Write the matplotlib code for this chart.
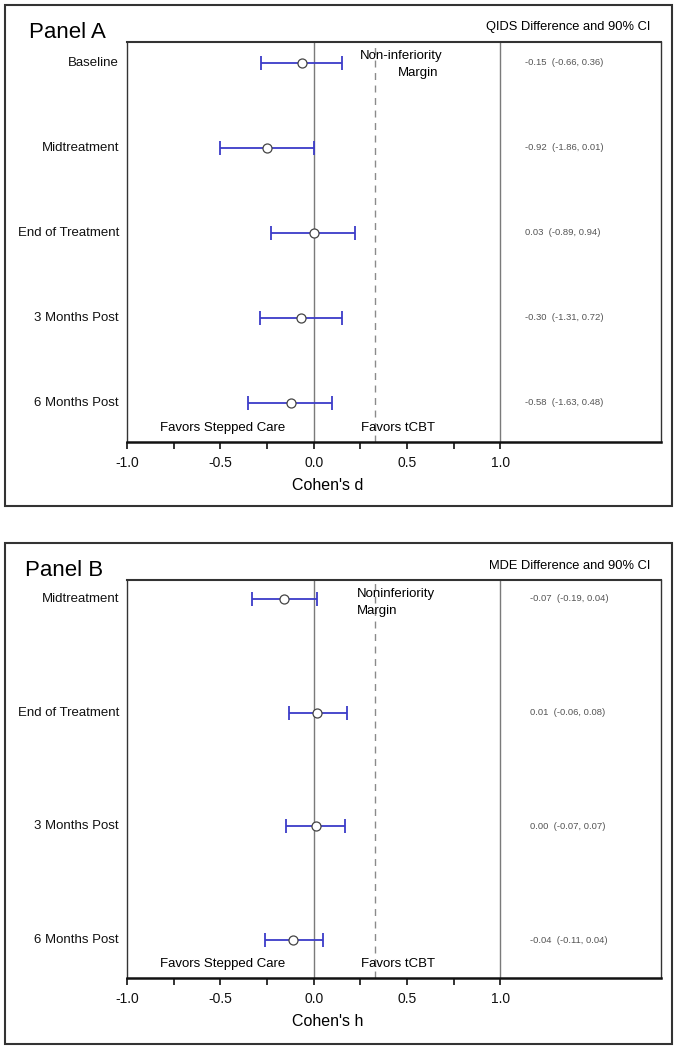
import matplotlib
matplotlib.use("Agg")
import matplotlib.pyplot as plt
import matplotlib.transforms as mtransforms
from matplotlib.patches import Rectangle

plt.rcParams['font.family'] = ['Liberation Sans', 'DejaVu Sans']
NARROW = ['Liberation Sans', 'DejaVu Sans']

# Panel A data (Cohen's d)
labels_a = ['Baseline', 'Midtreatment', 'End of Treatment', '3 Months Post', '6 Months Post']
est_a = [-0.065, -0.25, 0.0, -0.07, -0.12]
lo_a = [-0.28, -0.50, -0.23, -0.29, -0.35]
hi_a = [0.15, 0.0, 0.22, 0.15, 0.10]
txt_a = ['-0.15  (-0.66, 0.36)', '-0.92  (-1.86, 0.01)', '0.03  (-0.89, 0.94)',
         '-0.30  (-1.31, 0.72)', '-0.58  (-1.63, 0.48)']

# Panel B data (Cohen's h)
labels_b = ['Midtreatment', 'End of Treatment', '3 Months Post', '6 Months Post']
est_b = [-0.16, 0.02, 0.01, -0.11]
lo_b = [-0.33, -0.13, -0.15, -0.26]
hi_b = [0.02, 0.18, 0.17, 0.05]
txt_b = ['-0.07  (-0.19, 0.04)', '0.01  (-0.06, 0.08)', '0.00  (-0.07, 0.07)',
         '-0.04  (-0.11, 0.04)']

margin = 0.33
ticks = [-1.0, -0.5, 0.0, 0.5, 1.0]
minor_ticks = [-0.75, -0.25, 0.25, 0.75]

W, H = 677, 1050
fig = plt.figure(figsize=(W / 100, H / 100), dpi=100)


def px_box(left, top, right, bottom):
    return [left / W, 1 - bottom / H, (right - left) / W, (bottom - top) / H]


def draw_panel(rect, labels, est, lo, hi, txt, ylim, xlabel, note_lines, note_ha, note_x, txt_x):
    ax = fig.add_axes(rect)
    ys = list(range(1, len(labels) + 1))
    ax.set_xlim(-1.0, 1.86)
    ax.set_ylim(*ylim)

    ax.axvline(0, color='#7a7a7a', lw=1.0, zorder=1)
    ax.axvline(1.0, color='#7a7a7a', lw=1.0, zorder=1)
    ax.axvline(margin, color='#8a8a8a', lw=1.0, ls=(0, (5, 4)), zorder=1)

    xerr = [[e - l for e, l in zip(est, lo)], [h - e for e, h in zip(est, hi)]]
    ax.errorbar(est, ys, xerr=xerr, fmt='none', ecolor='#3c3cc8', elinewidth=1.3,
                capsize=5, capthick=1.3, zorder=2)
    ax.plot(est, ys, 'o', ms=6.5, mfc='white', mec='#444444', mew=0.9, zorder=3)

    for y, t in zip(ys, txt):
        ax.text(txt_x, y, t, fontsize=6.8, color='#555555', va='center', ha='left',
                family=NARROW)

    trans = mtransforms.blended_transform_factory(ax.transAxes, ax.transData)
    for y, lab in zip(ys, labels):
        ax.text(-0.015, y, lab, transform=trans, ha='right', va='center',
                fontsize=9.5, family=NARROW, color='#111111')

    ftrans = mtransforms.blended_transform_factory(ax.transData, ax.transAxes)
    ax.text(-0.49, 0.035, 'Favors Stepped Care', transform=ftrans, ha='center',
            va='center', fontsize=9.5, family=NARROW)
    ax.text(0.45, 0.035, 'Favors tCBT', transform=ftrans, ha='center',
            va='center', fontsize=9.5, family=NARROW)

    for (t, yy, xx) in zip(note_lines, [0.965, 0.923], note_x):
        ax.text(xx, yy, t, transform=ftrans, ha=note_ha, va='center',
                fontsize=9.5, family=NARROW)

    ax.set_yticks([])
    ax.set_xticks(ticks)
    ax.set_xticklabels(['%.1f' % t for t in ticks], fontsize=10)
    ax.set_xticks(minor_ticks, minor=True)
    ax.tick_params(axis='x', which='both', direction='out', length=5, width=1.2,
                   pad=5, colors='#111111')
    for s in ['left', 'top', 'right']:
        ax.spines[s].set_color('#333333')
        ax.spines[s].set_linewidth(1.0)
    ax.spines['bottom'].set_linewidth(1.8)
    ax.spines['bottom'].set_color('#111111')
    ax.spines['top'].set_linewidth(1.5)

    ax.text(0.075, -0.11, xlabel, transform=ftrans, ha='center', va='center',
            fontsize=11.5)
    return ax


axA = draw_panel(px_box(127, 42, 661, 442), labels_a, est_a, lo_a, hi_a, txt_a,
                 (5.46, 0.753), "Cohen's d", ['Non-inferiority', 'Margin'], 'right',
                 [0.69, 0.665], 1.13)
axB = draw_panel(px_box(127, 580, 661, 978), labels_b, est_b, lo_b, hi_b, txt_b,
                 (4.334, 0.833), "Cohen's h", ['Noninferiority', 'Margin'], 'left',
                 [0.23, 0.23], 1.16)

# outer borders and panel titles
for top, bottom in [(5, 506), (543, 1044)]:
    fig.patches.append(Rectangle((5 / W, 1 - bottom / H), 667 / W, (bottom - top) / H,
                                 transform=fig.transFigure, fill=False,
                                 ec='#333333', lw=1.5))

fig.text(29 / W, 1 - 32 / H, 'Panel A', fontsize=16, va='center', ha='left')
fig.text(650 / W, 1 - 27 / H, 'QIDS Difference and 90% CI', fontsize=9.3,
         va='center', ha='right', family=NARROW)
fig.text(25 / W, 1 - 570 / H, 'Panel B', fontsize=16, va='center', ha='left')
fig.text(650 / W, 1 - 566 / H, 'MDE Difference and 90% CI', fontsize=9.3,
         va='center', ha='right', family=NARROW)

fig.savefig('out.png', dpi=100)
